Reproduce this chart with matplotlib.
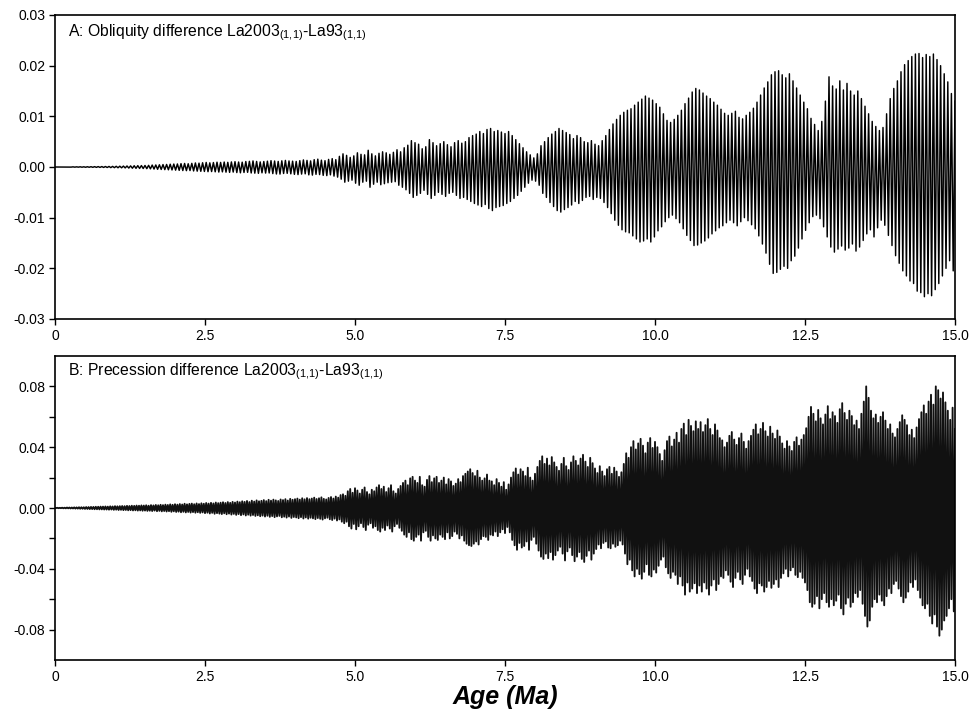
import numpy as np
import matplotlib
matplotlib.use("Agg")
import matplotlib.pyplot as plt
from matplotlib.ticker import FixedLocator

plt.rcParams['font.family'] = ['Liberation Sans', 'DejaVu Sans']
plt.rcParams['mathtext.fontset'] = 'custom'
plt.rcParams['mathtext.rm'] = 'Liberation Sans'
plt.rcParams['mathtext.it'] = 'Liberation Sans:italic'

# ---------------- data (units of 1e-3) ----------------
# Panel A: obliquity difference. Peaks at ages 0.00, 0.06, ..., 15.00
obl_peak_age = np.round(np.arange(0, 251) * 0.06, 2)
obl_peak = np.array([
    0.00, 0.01, 0.01, 0.02, 0.02, 0.03, 0.03, 0.04, 0.04, 0.05,
    0.06, 0.07, 0.08, 0.09, 0.10, 0.11, 0.12, 0.14, 0.16, 0.18,
    0.20, 0.22, 0.25, 0.27, 0.28, 0.30, 0.33, 0.38, 0.40, 0.44,
    0.48, 0.50, 0.55, 0.58, 0.60, 0.66, 0.70, 0.64, 0.72, 0.80,
    0.76, 0.84, 0.90, 0.82, 0.88, 0.95, 0.90, 0.98, 0.92, 1.00,
    1.05, 0.98, 0.95, 1.08, 1.12, 1.20, 1.10, 1.00, 1.08, 1.15,
    1.25, 1.18, 1.10, 1.22, 1.30, 1.20, 1.15, 1.10, 1.25, 1.40,
    1.30, 1.20, 1.45, 1.55, 1.35, 1.25, 1.50, 1.65, 1.45, 2.10,
    2.60, 2.30, 1.90, 2.20, 2.80, 2.50, 2.40, 3.30, 2.60, 2.20,
    2.70, 3.00, 2.80, 2.50, 2.90, 3.40, 3.00, 3.80, 4.30, 5.20,
    4.80, 4.50, 3.60, 4.00, 5.40, 4.80, 4.20, 4.60, 5.00, 4.40,
    4.00, 4.80, 5.20, 4.70, 5.00, 5.80, 6.20, 6.50, 7.00, 6.60,
    7.40, 7.60, 7.00, 7.20, 6.90, 6.60, 7.00, 6.20, 5.40, 4.60,
    3.80, 3.00, 2.40, 1.80, 2.60, 4.20, 5.00, 5.80, 6.50, 7.00,
    7.60, 7.20, 6.80, 6.40, 5.60, 6.20, 5.80, 5.00, 4.80, 5.20,
    4.50, 4.20, 5.20, 6.20, 7.40, 8.50, 9.40, 10.2, 10.8, 11.2,
    11.5, 12.2, 12.8, 13.4, 14.0, 13.6, 13.2, 12.5, 11.8, 10.5,
    9.20, 8.80, 9.40, 10.2, 11.2, 12.5, 13.6, 14.8, 15.5, 15.2,
    14.6, 14.0, 13.5, 12.8, 12.2, 11.4, 10.6, 10.2, 10.6, 11.0,
    9.80, 9.50, 10.2, 10.8, 11.6, 12.8, 14.2, 15.6, 16.8, 18.2,
    18.8, 19.0, 18.2, 17.6, 18.4, 17.0, 15.6, 14.2, 12.8, 11.5,
    9.60, 8.40, 7.20, 9.00, 13.0, 17.8, 16.0, 15.4, 17.0, 15.2,
    16.5, 15.0, 14.2, 15.0, 13.5, 12.0, 10.5, 9.00, 8.00, 7.20,
    7.80, 10.5, 13.5, 15.5, 17.0, 18.8, 20.2, 21.0, 21.8, 22.3,
    22.4, 21.6, 22.2, 21.8, 22.3, 21.2, 20.0, 18.4, 16.8, 14.5,
    13.0])
# Troughs (magnitudes) at ages 0.03, 0.09, ..., 14.97
obl_trough_age = np.round(np.arange(0, 250) * 0.06 + 0.03, 2)
obl_trough = np.array([
    0.00, 0.01, 0.01, 0.02, 0.02, 0.03, 0.03, 0.04, 0.05, 0.05,
    0.06, 0.07, 0.08, 0.09, 0.10, 0.12, 0.13, 0.15, 0.16, 0.18,
    0.21, 0.24, 0.26, 0.28, 0.30, 0.33, 0.36, 0.40, 0.45, 0.48,
    0.52, 0.55, 0.58, 0.62, 0.66, 0.70, 0.72, 0.70, 0.78, 0.82,
    0.85, 0.88, 0.92, 0.90, 0.95, 1.00, 0.96, 1.02, 1.06, 1.00,
    1.10, 1.15, 1.08, 1.05, 1.18, 1.22, 1.25, 1.15, 1.20, 1.18,
    1.30, 1.38, 1.40, 1.28, 1.25, 1.35, 1.45, 1.50, 1.40, 1.35,
    1.55, 1.60, 1.45, 1.50, 1.65, 1.70, 1.55, 1.80, 2.00, 2.40,
    3.00, 2.80, 2.60, 3.20, 3.60, 3.00, 2.80, 4.00, 3.40, 3.00,
    3.50, 3.30, 3.10, 3.00, 2.90, 3.60, 4.00, 4.50, 5.20, 6.00,
    5.60, 5.20, 4.60, 5.40, 6.20, 5.60, 5.00, 5.40, 5.80, 5.20,
    5.00, 5.60, 6.20, 6.00, 6.40, 6.80, 7.20, 7.50, 7.80, 7.40,
    8.20, 8.60, 8.00, 7.80, 7.60, 7.20, 6.80, 6.20, 5.60, 4.80,
    4.00, 3.20, 2.60, 2.80, 3.60, 5.20, 6.00, 7.00, 7.80, 8.60,
    8.90, 8.40, 8.00, 7.50, 6.80, 7.20, 6.60, 6.00, 5.80, 6.40,
    6.00, 6.20, 7.00, 8.00, 9.20, 10.5, 11.5, 12.4, 12.8, 13.0,
    13.6, 14.2, 14.8, 14.6, 14.2, 14.8, 13.8, 12.6, 11.8, 10.8,
    10.0, 9.50, 10.2, 11.0, 12.2, 13.5, 14.5, 15.5, 15.4, 15.0,
    14.6, 14.0, 13.2, 12.6, 12.0, 11.6, 11.0, 10.5, 11.0, 11.6,
    10.8, 10.0, 10.6, 11.4, 12.2, 13.6, 15.2, 17.0, 19.2, 21.0,
    20.8, 20.2, 19.6, 20.0, 18.5, 17.6, 16.0, 14.2, 12.5, 11.0,
    9.80, 9.50, 10.2, 11.8, 13.8, 15.8, 16.8, 16.2, 15.6, 16.4,
    16.0, 15.2, 16.6, 15.8, 14.5, 13.2, 12.4, 13.8, 12.0, 10.5,
    11.5, 13.5, 15.5, 17.5, 19.0, 20.5, 21.5, 22.5, 23.0, 24.5,
    24.8, 25.6, 25.0, 25.4, 24.2, 23.0, 21.5, 20.0, 18.5, 20.5])

# Panel B: precession difference. Peaks at ages 0.00, 0.04, ..., 15.00
pre_peak_age = np.round(np.arange(0, 376) * 0.04, 2)
pre_peak = np.array([
    0.0, 0.1, 0.1, 0.2, 0.2, 0.3, 0.3, 0.3, 0.4, 0.4, 0.5, 0.5, 0.5, 0.6, 0.6,
    0.7, 0.7, 0.8, 0.8, 0.9, 0.9, 1.0, 0.9, 1.1, 1.0, 1.2, 1.1, 1.2, 1.3, 1.2,
    1.4, 1.3, 1.5, 1.4, 1.6, 1.5, 1.7, 1.6, 1.8, 1.5, 1.9, 1.7, 2.0, 1.8, 2.1,
    1.9, 2.2, 2.0, 2.4, 2.1, 2.5, 2.2, 2.6, 2.3, 2.8, 2.4, 2.7, 2.9, 2.5, 3.0,
    2.6, 3.1, 2.8, 3.3, 2.9, 3.4, 3.0, 3.6, 3.2, 3.5, 3.8, 3.3, 3.9, 3.4, 4.0,
    3.6, 4.2, 3.8, 4.4, 4.0, 4.6, 3.9, 4.8, 4.2, 5.0, 4.4, 4.7, 5.2, 4.5, 5.4,
    4.8, 5.5, 5.0, 4.6, 5.6, 5.2, 5.8, 4.9, 6.0, 5.4, 5.8, 6.2, 5.5, 6.4, 5.7,
    6.5, 5.8, 6.2, 6.8, 5.9, 6.4, 7.0, 6.0, 5.6, 6.6, 7.2, 6.2, 7.5, 6.8, 8.5,
    9.0, 8.0, 11.0, 12.5, 10.0, 13.0, 11.5, 9.5, 12.0, 13.5, 10.5, 9.0, 12.0, 11.0, 13.5,
    15.0, 12.5, 14.0, 10.5, 13.0, 15.0, 11.0, 9.5, 12.5, 14.5, 16.5, 18.0, 15.0, 19.5, 20.5,
    18.0, 16.5, 20.5, 15.0, 14.0, 18.5, 21.0, 17.0, 19.5, 20.5, 16.5, 18.0, 20.0, 15.5, 19.0,
    17.5, 14.5, 16.0, 19.0, 17.0, 21.0, 22.5, 24.0, 25.5, 23.0, 21.0, 24.5, 20.0, 18.0, 19.5,
    22.0, 18.0, 17.5, 15.0, 19.0, 16.5, 14.0, 17.0, 12.0, 15.5, 20.0, 23.5, 26.0, 22.0, 25.5,
    24.0, 21.0, 26.5, 20.0, 18.0, 22.5, 27.0, 31.0, 34.0, 29.0, 32.5, 28.0, 33.5, 30.0, 27.0,
    24.5, 29.0, 33.0, 27.5, 25.0, 30.0, 34.0, 31.0, 28.0, 32.5, 35.0, 30.5, 27.0, 33.0, 29.5,
    26.0, 23.0, 27.5, 24.0, 21.0, 25.5, 27.0, 22.5, 26.5, 24.0, 20.5, 23.5, 29.0, 36.0, 33.0,
    40.0, 44.0, 38.5, 42.5, 45.5, 41.0, 36.0, 43.0, 46.0, 39.5, 43.5, 40.0, 35.5, 31.0, 38.0,
    44.0, 47.0, 40.5, 45.0, 49.5, 43.0, 52.0, 55.5, 48.0, 58.0, 54.0, 50.5, 57.0, 52.0, 56.5,
    50.0, 54.5, 58.5, 52.0, 48.0, 55.0, 51.0, 46.0, 44.5, 40.0, 43.0, 47.5, 50.0, 45.0, 41.5,
    46.0, 49.0, 43.5, 39.0, 44.0, 47.5, 51.5, 55.0, 48.5, 52.0, 56.0, 50.5, 47.0, 53.5, 49.0,
    45.5, 51.0, 47.0, 42.5, 39.0, 44.0, 40.5, 37.5, 43.5, 46.5, 41.0, 45.0, 48.0, 52.5, 60.0,
    66.5, 62.0, 57.0, 64.5, 59.0, 55.0, 61.5, 67.0, 58.5, 63.0, 60.5, 56.0, 65.0, 69.0, 62.5,
    58.0, 64.0, 60.5, 54.5, 57.5, 52.0, 62.0, 70.0, 80.0, 72.5, 64.0, 59.0, 61.5, 56.0, 60.0,
    63.0, 57.5, 52.0, 55.0, 49.0, 46.5, 52.0, 56.5, 61.0, 58.0, 54.5, 48.0, 51.5, 46.0, 53.0,
    58.5, 63.0, 67.5, 62.0, 70.0, 74.5, 68.0, 80.0, 77.5, 72.0, 76.0, 69.5, 64.0, 58.0, 66.0,
    52.0])
# Troughs (magnitudes) at ages 0.02, 0.06, ..., 14.98
pre_trough_age = np.round(np.arange(0, 375) * 0.04 + 0.02, 2)
pre_trough = np.array([
    0.0, 0.1, 0.1, 0.2, 0.2, 0.2, 0.3, 0.3, 0.4, 0.4, 0.5, 0.5, 0.6, 0.6, 0.7,
    0.7, 0.8, 0.8, 0.9, 0.9, 1.0, 1.0, 1.1, 1.0, 1.2, 1.1, 1.3, 1.2, 1.4, 1.3,
    1.5, 1.4, 1.6, 1.5, 1.7, 1.6, 1.8, 1.7, 1.9, 1.8, 2.0, 1.7, 2.1, 1.9, 2.2,
    2.0, 2.3, 2.1, 2.5, 2.2, 2.6, 2.4, 2.8, 2.5, 2.9, 2.6, 3.0, 2.7, 3.1, 2.8,
    3.2, 2.9, 3.4, 3.1, 3.6, 3.2, 3.8, 3.4, 3.7, 4.0, 3.5, 4.1, 3.7, 4.3, 3.9,
    4.5, 4.0, 4.7, 4.2, 4.9, 4.4, 5.0, 4.6, 5.2, 4.8, 5.4, 5.0, 5.6, 5.1, 5.8,
    5.3, 6.0, 5.5, 5.2, 6.1, 5.7, 6.3, 5.6, 6.5, 5.9, 6.2, 6.7, 6.0, 6.9, 6.2,
    7.0, 6.4, 6.8, 7.3, 6.6, 7.1, 7.6, 6.8, 6.4, 7.4, 7.9, 7.0, 8.2, 7.5, 9.0,
    10.0, 9.0, 12.0, 13.5, 10.5, 14.0, 12.0, 10.0, 12.5, 14.5, 11.0, 10.0, 13.0, 12.0, 14.5,
    15.5, 13.0, 14.5, 11.5, 13.5, 15.5, 12.0, 10.5, 13.0, 15.0, 17.5, 19.0, 16.0, 20.5, 21.5,
    19.0, 17.5, 21.5, 16.0, 15.0, 19.0, 21.5, 18.0, 20.0, 21.0, 17.5, 19.0, 20.5, 16.0, 20.0,
    18.5, 15.5, 17.0, 20.0, 18.0, 21.5, 23.5, 24.5, 25.0, 23.5, 22.0, 24.0, 20.5, 18.5, 19.0,
    21.0, 17.5, 18.0, 15.5, 18.5, 16.0, 14.0, 16.5, 12.5, 16.0, 21.0, 24.5, 27.5, 23.0, 26.0,
    25.0, 22.0, 27.5, 21.0, 19.0, 23.5, 28.0, 32.0, 33.5, 30.0, 33.0, 29.0, 34.0, 31.0, 28.0,
    25.5, 30.0, 34.5, 28.5, 26.0, 31.0, 35.0, 32.0, 29.0, 33.5, 35.5, 31.5, 28.0, 34.0, 30.0,
    27.0, 24.0, 26.5, 23.0, 22.0, 26.0, 26.5, 23.5, 25.5, 24.5, 21.5, 24.0, 30.0, 37.0, 34.0,
    41.0, 45.0, 40.0, 43.5, 46.5, 42.0, 37.0, 44.0, 45.0, 40.5, 42.5, 38.0, 34.0, 32.0, 39.0,
    43.0, 46.0, 42.0, 44.0, 50.0, 45.0, 51.0, 57.0, 49.0, 55.0, 53.0, 49.5, 56.0, 51.0, 55.0,
    49.0, 53.0, 57.0, 51.0, 47.0, 54.0, 50.0, 45.0, 46.0, 41.0, 44.0, 48.5, 52.0, 46.0, 42.0,
    47.0, 50.0, 44.0, 40.0, 45.0, 48.0, 53.0, 56.0, 49.5, 51.0, 55.0, 52.0, 48.0, 52.5, 50.0,
    47.0, 52.0, 46.0, 43.0, 40.0, 45.0, 41.0, 39.0, 44.0, 45.5, 42.0, 46.0, 49.0, 54.0, 62.0,
    65.0, 63.0, 58.0, 66.0, 60.0, 56.0, 62.0, 65.0, 60.0, 64.0, 61.0, 57.0, 66.0, 70.0, 63.0,
    59.0, 65.0, 62.0, 56.0, 58.5, 54.0, 63.0, 71.0, 78.0, 74.0, 65.0, 60.0, 62.0, 57.0, 61.0,
    64.0, 58.0, 53.0, 56.0, 50.0, 48.0, 53.0, 58.0, 62.0, 59.0, 55.0, 49.0, 52.0, 47.0, 54.0,
    59.0, 64.0, 66.0, 63.0, 71.0, 76.0, 70.0, 78.0, 84.0, 80.0, 74.0, 71.0, 66.0, 60.0, 68.0])

x_ticks = [0, 2.5, 5.0, 7.5, 10.0, 12.5, 15.0]
x_ticklabels = ['0', '2.5', '5.0', '7.5', '10.0', '12.5', '15.0']
a_yticks = [-0.03, -0.02, -0.01, 0.0, 0.01, 0.02, 0.03]
a_yticklabels = ['-0.03', '-0.02', '-0.01', '0.00', '0.01', '0.02', '0.03']
b_yticks = [-0.08, -0.04, 0.0, 0.04, 0.08]
b_yticklabels = ['-0.08', '-0.04', '0.00', '0.04', '0.08']
b_yminor = [-0.06, -0.02, 0.02, 0.06]

title_a = r'A: Obliquity difference La2003$_{(1{,}1)}$-La93$_{(1{,}1)}$'
title_b = r'B: Precession difference La2003$_{(1{,}1)}$-La93$_{(1{,}1)}$'
xlabel = 'Age (Ma)'


def zigzag(age_p, val_p, age_t, val_t):
    """Interleave peaks (+) and troughs (-) into one series, values in 1e-3."""
    ages = np.concatenate([age_p, age_t])
    vals = np.concatenate([val_p, -val_t]) * 1e-3
    order = np.argsort(ages, kind='stable')
    return ages[order], vals[order]


fig = plt.figure(figsize=(9.72, 7.15), dpi=100)
axA = fig.add_axes([55 / 972, 1 - 319 / 715, 900 / 972, 304 / 715])
axB = fig.add_axes([55 / 972, 1 - 660 / 715, 900 / 972, 304 / 715])

xa, ya = zigzag(obl_peak_age, obl_peak, obl_trough_age, obl_trough)
axA.plot(xa, ya, color='black', lw=1.05)
xb, yb = zigzag(pre_peak_age, pre_peak, pre_trough_age, pre_trough)
axB.plot(xb, yb, color='#111111', lw=1.35)

axA.set_ylim(-0.03, 0.03)
axA.set_yticks(a_yticks)
axA.set_yticklabels(a_yticklabels)
axB.set_ylim(-0.1, 0.1)
axB.set_yticks(b_yticks)
axB.set_yticklabels(b_yticklabels)
axB.yaxis.set_minor_locator(FixedLocator(b_yminor))

for ax, title, ty in ((axA, title_a, 0.941), (axB, title_b, 0.947)):
    ax.set_xlim(0, 15)
    ax.set_xticks(x_ticks)
    ax.set_xticklabels(x_ticklabels)
    ax.tick_params(axis='both', which='major', direction='out', length=4,
                   width=1, labelsize=10, colors='black', pad=3)
    ax.tick_params(axis='y', which='minor', direction='out', length=4, width=1)
    for s in ax.spines.values():
        s.set_linewidth(1.2)
        s.set_color('black')
    ax.text(0.014, ty, title, transform=ax.transAxes, fontsize=11.3,
            ha='left', va='center')

axB.set_xlabel(xlabel, fontsize=18, fontweight='bold', fontstyle='italic', labelpad=1)

fig.savefig('out.png', dpi=100)
